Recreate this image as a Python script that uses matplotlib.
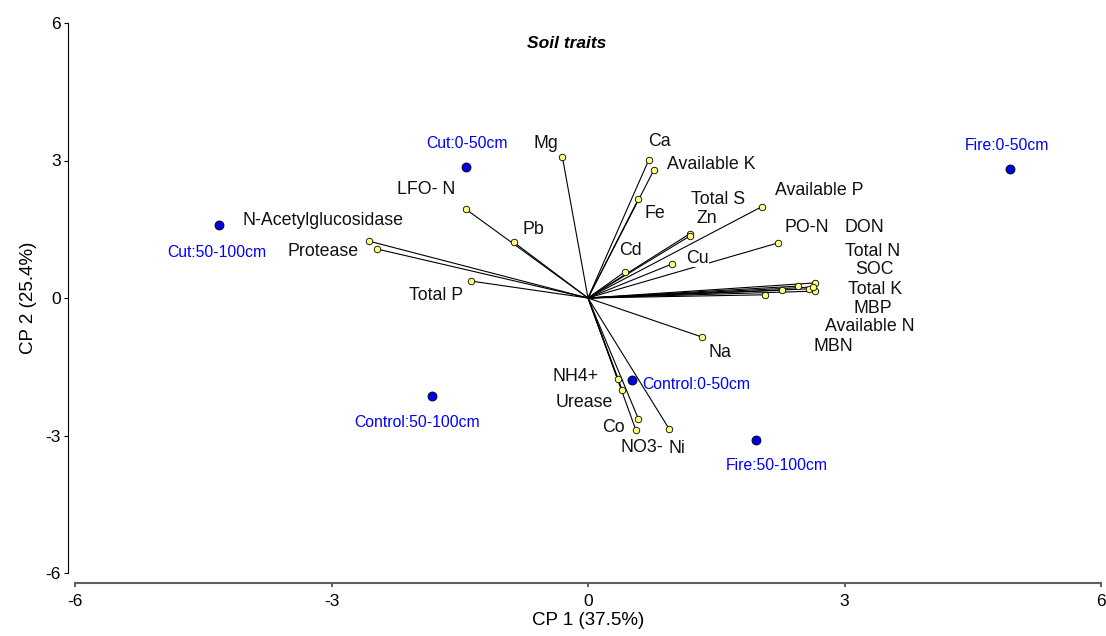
import matplotlib
matplotlib.use("Agg")
import matplotlib.pyplot as plt

plt.rcParams['font.family'] = ['Liberation Sans', 'DejaVu Sans']
plt.rcParams['axes.unicode_minus'] = False

# soil variables (loadings)
var_names = ["Mg", "Ca", "Available K", "Fe", "Total S", "Zn", "Available P",
             "PO-N", "Cd", "Cu", "DON", "Total N", "SOC", "Total K", "MBP",
             "Available N", "MBN", "Na", "NH4+", "Urease", "Co", "NO3-", "Ni",
             "LFO- N", "Pb", "N-Acetylglucosidase", "Protease", "Total P"]
var_x = [-0.30, 0.71, 0.77, 0.59, 1.19, 1.19, 2.03,
         2.22, 0.43, 0.98, 2.66, 2.65, 2.58, 2.63, 2.46,
         2.27, 2.07, 1.33, 0.35, 0.40, 0.59, 0.56, 0.95,
         -1.43, -0.87, -2.56, -2.47, -1.37]
var_y = [3.08, 3.01, 2.79, 2.16, 1.40, 1.35, 1.99,
         1.20, 0.57, 0.74, 0.33, 0.15, 0.20, 0.24, 0.26,
         0.17, 0.07, -0.85, -1.77, -2.01, -2.64, -2.88, -2.86,
         1.94, 1.22, 1.24, 1.07, 0.37]

# sites (scores)
site_names = ["Cut:0-50cm", "Cut:50-100cm", "Fire:0-50cm", "Control:0-50cm",
              "Control:50-100cm", "Fire:50-100cm"]
site_x = [-1.43, -4.31, 4.94, 0.51, -1.83, 1.96]
site_y = [2.86, 1.59, 2.81, -1.79, -2.14, -3.10]

# label offsets in pixels
var_off = [(-16, 13), (11, 19), (57, 6), (16, -14), (28, 34), (17, 18), (58, 16),
           (29, 15), (6, 21), (26, 6), (49, 55), (58, 40), (66, 19), (62, -2), (74, -22),
           (88, -36), (68, -52), (18, -16), (-42, 3), (-38, -12), (-25, -8), (6, -18), (8, -19),
           (-40, 20), (20, 13), (-46, 21), (-54, -3), (-35, -14)]
site_off = [(1, 23), (-3, -27), (-3, 24), (65, -4), (-14, -26), (21, -25)]

fig = plt.figure(figsize=(11.06, 6.36), dpi=100)
ax = fig.add_axes([75/1106, 63/636, 1026/1106, 550/636])

for x, y in zip(var_x, var_y):
    ax.plot([0, x], [0, y], color="black", lw=0.8, zorder=1)
ax.scatter(var_x, var_y, s=22, color="#ffff80", edgecolors="black", linewidths=0.6, zorder=4)
ax.scatter(site_x, site_y, s=42, color="#0000e0", edgecolors="black", linewidths=0.6, zorder=4)

for name, x, y, off in zip(var_names, var_x, var_y, var_off):
    ax.annotate(name, (x, y), xytext=off, textcoords="offset pixels",
                ha="center", va="center", fontsize=12.8, color="#111111", zorder=3,
                bbox=dict(facecolor="white", edgecolor="none", pad=0))
for name, x, y, off in zip(site_names, site_x, site_y, site_off):
    ax.annotate(name, (x, y), xytext=off, textcoords="offset pixels",
                ha="center", va="center", fontsize=11.3, color="#0000ff", zorder=3)

ax.text(0.4795, 0.963, "Soil traits", transform=ax.transAxes, ha="center", va="center",
        fontsize=12.5, fontweight="bold", fontstyle="italic")

ax.set_xlim(-6, 6)
ax.set_ylim(-6, 6)
ax.set_xticks([-6, -3, 0, 3, 6])
ax.set_yticks([-6, -3, 0, 3, 6])
ax.tick_params(labelsize=12.5)
ax.tick_params(axis="x", length=3, width=1.4, color="#606060", pad=5)
ax.tick_params(axis="y", length=3, width=0.8, pad=2)

for s in ["top", "right"]:
    ax.spines[s].set_visible(False)
ax.spines["left"].set_position(("outward", 5))
ax.spines["left"].set_linewidth(0.8)
ax.spines["bottom"].set_position(("outward", 7))
ax.spines["bottom"].set_linewidth(1.5)
ax.spines["bottom"].set_color("#606060")

ax.set_xlabel("CP 1 (37.5%)", fontsize=13.5, labelpad=2)
ax.set_ylabel("CP 2 (25.4%)", fontsize=13.5, labelpad=6)

fig.savefig("out.png", dpi=100)
